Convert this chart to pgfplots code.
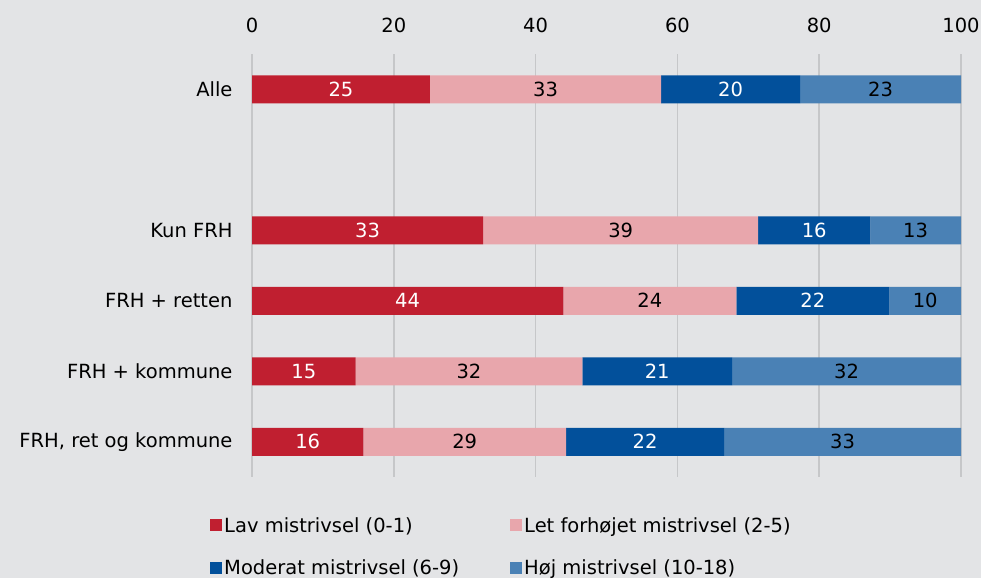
\documentclass[border=0pt]{standalone}
\usepackage{pgfplots}
\pgfplotsset{compat=1.18}
\usepackage{pgfplotstable}
\usepackage{fontspec}
\setmainfont{DejaVu Sans}
\definecolor{bg}{HTML}{E3E4E6}
\definecolor{cLav}{HTML}{C01F30}
\definecolor{cLet}{HTML}{E8A6AC}
\definecolor{cMod}{HTML}{02509B}
\definecolor{cHoj}{HTML}{4A81B5}
\definecolor{gridc}{HTML}{C6C7C9}

\pgfplotstableread{
pos lav let mod hoj
0 25.1 32.6 19.6 22.7
2 32.6 38.8 15.8 12.8
3 43.9 24.4 21.6 10.1
4 14.6 32.0 21.1 32.3
5 15.7 28.6 22.3 33.4
}\datatable

\begin{document}
\begin{tikzpicture}[font=\fontsize{19.5}{23}\selectfont]
\fill[bg] (0,0) rectangle (981pt,578pt);
\useasboundingbox (0,0) rectangle (981pt,578pt);
\begin{axis}[
  at={(252pt,101pt)}, anchor=south west,
  scale only axis, width=709pt, height=423pt,
  xbar stacked, bar width=28pt,
  xmin=0, xmax=100, ymin=-0.5, ymax=5.5, y dir=reverse,
  xtick={0,20,...,100}, xticklabel pos=upper,
  ytick={0,2,3,4,5},
  yticklabels={Alle,Kun FRH,FRH + retten,FRH + kommune,{FRH, ret og kommune}},
  axis line style={draw=none}, major tick length=0pt,
  xmajorgrids, major grid style={draw=gridc, line width=1.6pt},
  /pgf/number format/assume math mode=true,
  tick label style={font=\fontsize{19.5}{23}\selectfont},
  xticklabel style={yshift=18pt},
  yticklabel style={xshift=-16pt},
  visualization depends on=rawx \as \rawx,
  nodes near coords={\pgfmathprintnumber[fixed,precision=0]{\rawx}},
  every node near coord/.append style={anchor=center, font=\fontsize{19.5}{23}\selectfont},
  every axis plot post/.append style={draw=none, legend image code/.code={\fill[##1] (0pt,-6pt) rectangle (12pt,6pt);}},
  legend style={at={(axis description cs:-0.0592,-0.09)}, anchor=north west, draw=none, fill=none,
    font=\fontsize{19.5}{23}\selectfont, inner sep=0pt, row sep=22pt,
    /tikz/every even column/.append style={column sep=0pt}},
  legend columns=2, legend cell align=left,
]
\addplot[fill=cLav, every node near coord/.append style={text=white}] table[x=lav, y=pos] {\datatable};
\addplot[fill=cLet, every node near coord/.append style={text=black}] table[x=let, y=pos] {\datatable};
\addplot[fill=cMod, every node near coord/.append style={text=white}] table[x=mod, y=pos] {\datatable};
\addplot[fill=cHoj, every node near coord/.append style={text=black}] table[x=hoj, y=pos] {\datatable};
\legend{\makebox[284pt][l]{Lav mistrivsel (0-1)}, Let forhøjet mistrivsel (2-5), \makebox[284pt][l]{Moderat mistrivsel (6-9)}, Høj mistrivsel (10-18)}
\end{axis}
\end{tikzpicture}
\end{document}
